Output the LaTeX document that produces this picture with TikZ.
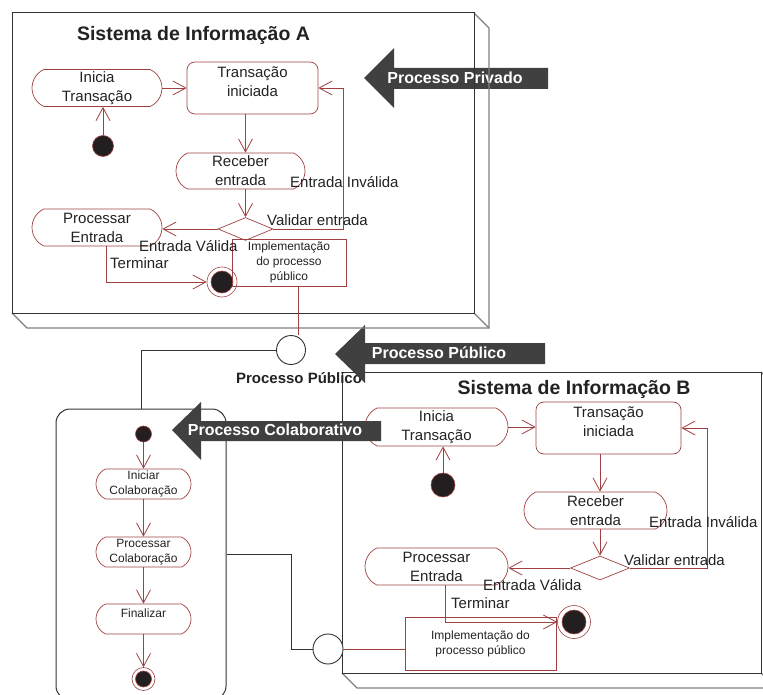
\documentclass[tikz,border=0pt]{standalone}
\usepackage{fontspec}
\setmainfont{Liberation Sans}
\usetikzlibrary{arrows.meta,shapes.misc,shapes.geometric}

\definecolor{umlred}{RGB}{160,64,64}
\definecolor{dotfill}{RGB}{35,31,32}
\definecolor{bigarrow}{RGB}{64,64,64}
\definecolor{frame}{RGB}{50,50,50}
\definecolor{inktxt}{RGB}{34,34,34}

\tikzset{
  act/.style={rounded rectangle, rounded rectangle arc length=130, draw=umlred, line width=0.7pt, inner sep=0pt, align=center},
  stbox/.style={draw=umlred, line width=0.7pt, rounded corners=8pt, inner sep=0pt},
  choice/.style={diamond, draw=umlred, line width=0.7pt, inner sep=0pt},
  impl/.style={draw=umlred, line width=0.7pt, inner sep=0pt, align=center, font=\fontsize{12}{15}\selectfont},
  startdot/.style={circle, draw=umlred, fill=dotfill, line width=0.6pt, inner sep=0pt},
  enddot/.style={circle, draw=umlred, line width=0.6pt, inner sep=0pt},
  flow/.style={draw=umlred, line width=0.8pt, ->},
  uml/.style={draw=umlred, line width=0.8pt},
  port/.style={circle, draw=frame, fill=white, line width=0.9pt, inner sep=0pt, minimum size=29},
  wire/.style={draw=frame, line width=0.9pt},
  frontline/.style={draw=frame, line width=1pt},
  backline/.style={draw=gray, line width=1.1pt},
  txt/.style={align=center, inner sep=0pt},
  smalltxt/.style={align=center, inner sep=0pt, font=\fontsize{12}{15}\selectfont},
  lbl/.style={inner sep=0pt, anchor=west},
  systitle/.style={inner sep=0pt, font=\bfseries\fontsize{19.5}{22}\selectfont},
  banner/.style={fill=bigarrow, draw=none},
  bannertxt/.style={white, inner sep=0pt, font=\bfseries\fontsize{16}{19}\selectfont},
}

\begin{document}
\begin{tikzpicture}[x=1pt,y=-1pt,>={Straight Barb[length=13pt,width=14pt]},font=\fontsize{15}{19}\selectfont,text=inktxt]
%\draw[help lines,step=50] (0,0) grid (763,695);
\clip (0,0) rectangle (763,695);
\useasboundingbox (0,0) rectangle (763,695);

% Sistema de Informacao B
\draw[backline] (342,673) -- (357,688) -- (790,688);
\draw[backline] (761,372) -- (776,387) -- (776,688);
\draw[backline] (761,673) -- (776,688);
\draw[frontline] (342,372) rectangle (761,673);
\node (titB) at (574,389) [systitle] {Sistema de Informação B};

\node (iniB) at (436.5,427) [act, minimum width=143, minimum height=38] {Inicia\\Transação};
\node (trB) at (608.5,428) [stbox, minimum width=145, minimum height=52, label={[txt,yshift=6pt]center:Transação\\iniciada}] {};
\node (recB) at (595.5,510.5) [act, minimum width=143, minimum height=37] {Receber\\entrada};
\node (decB) at (600,568) [choice, minimum width=59, minimum height=24] {};
\node (procB) at (436.5,566.5) [act, minimum width=143, minimum height=37] {Processar\\Entrada};
\node (dotB) at (443,485) [startdot, minimum size=24] {};
\node (endB) at (574,622) [enddot, minimum size=33] {};
\node (endBin) at (endB) [startdot, minimum size=24] {};
\node (implB) at (480.5,643.5) [impl, minimum width=151, minimum height=53] {Implementação do\\processo público};

\draw[flow] (dotB.north) -- (dotB.north |- iniB.south);
\draw[flow] (iniB.east) -- (iniB.east -| trB.west);
\draw[flow] (decB |- trB.south) -- (decB |- recB.north);
\draw[flow] (decB |- recB.south) -- (decB.north);
\draw[flow] (decB.west) -- (decB.west -| procB.east);
\draw[flow] (decB.east) -- ++(78,0) |- (trB.east);
\draw[flow] ([xshift=9pt]procB.south) |- (endB.west);

\node (valB) at (624,560) [lbl] {Validar entrada};
\node (invB) at (649,522) [lbl] {Entrada Inválida};
\node (vldB) at (483,585) [lbl] {Entrada Válida};
\node (terB) at (451,603) [lbl] {Terminar};

% colaboracao
\node (collab) at (141,554.5) [draw=frame, line width=1pt, rounded corners=14pt, minimum width=170, minimum height=291, inner sep=0pt] {};
\node (dotC) at (143.5,434) [startdot, minimum size=16] {};
\node (iniC) at (143.5,484) [act, smalltxt, minimum width=95, minimum height=30] {Iniciar\\Colaboração};
\node (procC) at (143.5,552) [act, smalltxt, minimum width=95, minimum height=30] {Processar\\Colaboração};
\node (finC) at (143.5,619) [act, minimum width=95, minimum height=30, label={[smalltxt,yshift=6pt]center:Finalizar}] {};
\node (endC) at (143.5,679) [enddot, minimum size=23] {};
\node (endCin) at (endC) [startdot, minimum size=16] {};

\draw[flow] (dotC.south) -- (iniC.north);
\draw[flow] (iniC.south) -- (procC.north);
\draw[flow] (procC.south) -- (finC.north);
\draw[flow] (finC.south) -- (endC.north);

% processo publico
\node (pubA) at (291,350) [port] {};
\node (pubB) at (328,649) [port, minimum size=30] {};
\draw[wire] (pubA.west) -| (collab.north);
\draw[wire] (collab.east) -- ++(65,0) |- (pubB.west);
\draw[uml] (pubB.east) -- (pubB.east -| implB.west);
\node (pubtxt) at (299,378) [inner sep=0pt, font=\bfseries\fontsize{15}{18}\selectfont] {Processo Público};

\fill[banner] (335,354) -- (365,325) -- (365,343) -- (545,343) -- (545,364) -- (365,364) -- (365,383) -- cycle;
\node (publico) at (439,353) [bannertxt] {Processo Público};
\fill[banner] (172,430) -- (201,402) -- (201,421) -- (381,421) -- (381,441) -- (201,441) -- (201,460) -- cycle;
\node (colab) at (275,430) [bannertxt] {Processo Colaborativo};
\fill[banner] (364,78) -- (394,48) -- (394,68) -- (548,68) -- (548,89) -- (394,89) -- (394,108) -- cycle;
\node (privado) at (455,78) [bannertxt] {Processo Privado};

% Sistema de Informacao A
\draw[backline] (474,13) -- (489,28) -- (489,328) -- (27,328) -- (12,313);
\draw[backline] (474,313) -- (489,328);
\draw[frontline] (12,13) rectangle (474,313);
\node (titA) at (193.5,35) [systitle] {Sistema de Informação A};

\node (iniA) at (97,88) [act, minimum width=130, minimum height=37] {Inicia\\Transação};
\node (trA) at (252.5,88) [stbox, minimum width=131, minimum height=52, label={[txt,yshift=6pt]center:Transação\\iniciada}] {};
\node (recA) at (240.5,171) [act, minimum width=129, minimum height=36] {Receber\\entrada};
\node (decA) at (245.5,229) [choice, minimum width=55, minimum height=23] {};
\node (procA) at (97,227.5) [act, minimum width=130, minimum height=37] {Processar\\Entrada};
\node (dotA) at (103,146) [startdot, minimum size=21] {};
\node (endA) at (222,282) [enddot, minimum size=30] {};
\node (endAin) at (endA) [startdot, minimum size=22] {};
\node (implA) at (289,262.5) [impl, minimum width=114, minimum height=47] {Implementação\\do processo\\público};

\draw[flow] (dotA.north) -- (dotA.north |- iniA.south);
\draw[flow] (iniA.east) -- (iniA.east -| trA.west);
\draw[flow] (decA |- trA.south) -- (decA |- recA.north);
\draw[flow] (decA |- recA.south) -- (decA.north);
\draw[flow] (decA.west) -- (decA.west -| procA.east);
\draw[flow] (decA.east) -- ++(70,0) |- (trA.east);
\draw[flow] ([xshift=9pt]procA.south) |- (endA.west);
\draw[uml] ([xshift=9pt]implA.south) -- ([xshift=9pt]implA.south |- pubA.north);

\node (valA) at (267,220) [lbl] {Validar entrada};
\node (invA) at (290,182) [lbl] {Entrada Inválida};
\node (vldA) at (139,246) [lbl] {Entrada Válida};
\node (terA) at (110,263) [lbl] {Terminar};
\end{tikzpicture}
\end{document}
